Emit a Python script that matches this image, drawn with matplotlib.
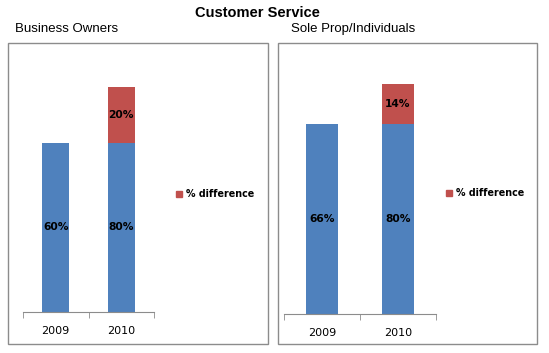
import matplotlib
matplotlib.use("Agg")
import matplotlib.pyplot as plt
from matplotlib.patches import Rectangle

title = "Customer Service"
panel_titles = ["Business Owners", "Sole Prop/Individuals"]
categories = ["2009", "2010"]
# drawn heights (as in the reference) and the labels shown on them
base_left = [60, 60]
diff_left = [0, 20]
base_labels_left = ["60%", "80%"]
diff_labels_left = ["", "20%"]
base_right = [66, 66]
diff_right = [0, 14]
base_labels_right = ["66%", "80%"]
diff_labels_right = ["", "14%"]
legend_label = "% difference"

BLUE = "#4F81BD"
RED = "#C0504D"
GRAY = "#8C8C8C"

W, H = 549, 353
fig = plt.figure(figsize=(W / 100, H / 100), dpi=100)


def fx(x):
    return x / W


def fy(y):
    return 1 - y / H


# panel frames
for x0, x1 in [(8, 268), (278, 537)]:
    fig.patches.append(Rectangle((fx(x0), fy(344)), fx(x1 - x0), (344 - 43) / H,
                                 transform=fig.transFigure, fill=False,
                                 edgecolor=GRAY, linewidth=1.0))


def panel(rect, base, diff, blabels, dlabels, ymax, legend_xy):
    ax = fig.add_axes(rect)
    x = list(range(len(categories)))
    ax.bar(x, base, width=0.41, color=BLUE, edgecolor="none")
    ax.bar(x, diff, width=0.41, bottom=base, color=RED, edgecolor="none")
    for xi, b, d, bl, dl in zip(x, base, diff, blabels, dlabels):
        ax.text(xi, b / 2, bl, ha="center", va="center", fontsize=7.7,
                fontweight="bold", color="black")
        if dl:
            ax.text(xi, b + d / 2, dl, ha="center", va="center", fontsize=7.7,
                    fontweight="bold", color="black")
    ax.set_xlim(-0.5, len(categories) - 0.5)
    ax.set_ylim(0, ymax)
    for s in ["top", "right", "left"]:
        ax.spines[s].set_visible(False)
    ax.spines["bottom"].set_color(GRAY)
    ax.set_yticks([])
    ax.set_xticks(x)
    ax.set_xticklabels(categories, fontsize=8)
    ax.tick_params(axis="x", which="major", length=0, pad=10)
    ax.set_xticks([-0.5, 0.5, 1.5], minor=True)
    ax.tick_params(axis="x", which="minor", length=4, color=GRAY)
    ax.patch.set_visible(False)
    lx, ly = legend_xy
    fig.patches.append(Rectangle((fx(lx), fy(ly + 3)), 6 / W, 6 / H,
                                 transform=fig.transFigure, color=RED))
    fig.text(fx(lx + 10), fy(ly), legend_label, fontsize=6.9, fontweight="bold",
             ha="left", va="center")
    return ax


panel([fx(23), fy(312), fx(131), (312 - 60) / H], base_left, diff_left,
      base_labels_left, diff_labels_left, 252 / 169 * 60, (176, 194))
panel([fx(284), fy(314), fx(152), (314 - 60) / H], base_right, diff_right,
      base_labels_right, diff_labels_right, 254 / 190 * 66, (446, 193))

fig.text(fx(257), fy(13), title, fontsize=10.5, fontweight="bold",
         family="Liberation Sans", ha="center", va="center")
fig.text(fx(15), fy(29), panel_titles[0], fontsize=9.5, family="Liberation Sans",
         ha="left", va="center")
fig.text(fx(291), fy(29), panel_titles[1], fontsize=9.5, family="Liberation Sans",
         ha="left", va="center")

fig.savefig("out.png", dpi=100)
